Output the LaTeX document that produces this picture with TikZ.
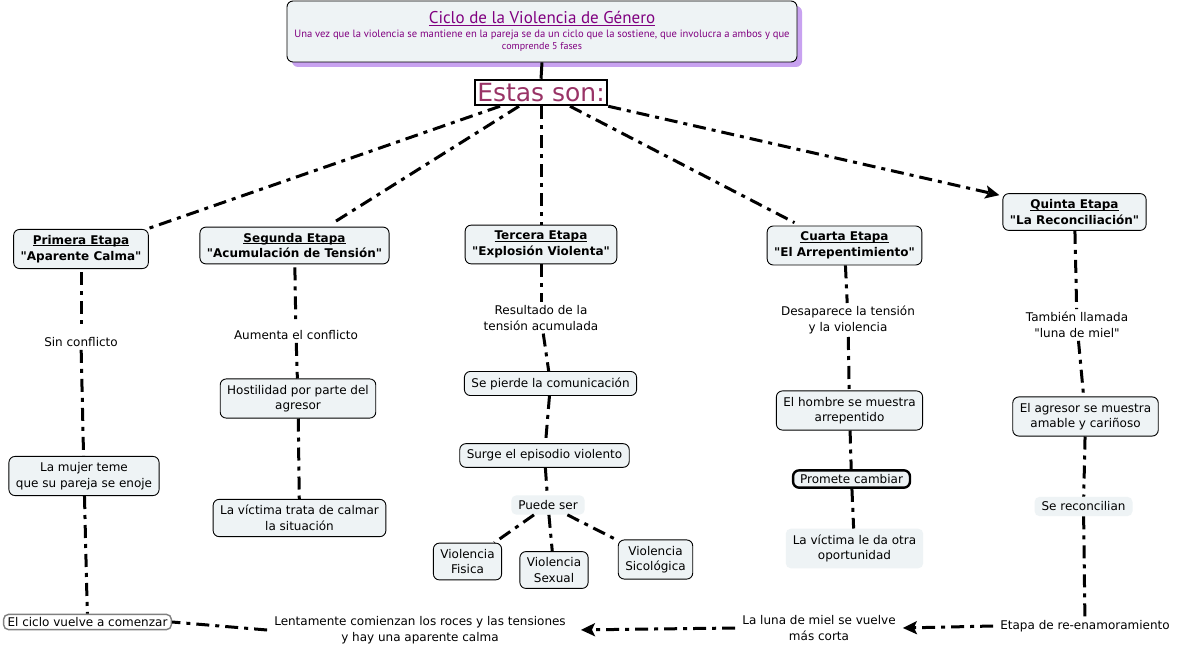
\documentclass[tikz,border=0pt]{standalone}
\usepackage{fontspec}
\setmainfont{DejaVu Sans}[Ligatures=TeXReset]
\newfontfamily\titlefont{PT Sans}
\usetikzlibrary{arrows.meta}
\definecolor{nodefill}{HTML}{EEF3F5}
\definecolor{ttl}{HTML}{800080}
\definecolor{estasc}{HTML}{993366}
\definecolor{shadowc}{HTML}{C8A2F0}
\newcommand\myul[1]{\setbox0\hbox{#1}\rlap{\rule[-1.6pt]{\wd0}{0.8pt}}\box0}
\newcommand\fsz{\fontsize{12}{15.5}\selectfont}
\begin{document}
\begin{tikzpicture}[x=1pt,y=-1pt,
 base/.style={align=center, font=\fsz, inner xsep=7pt, inner ysep=6pt},
 box/.style={base, draw=black, line width=0.9pt, rounded corners=6pt, fill=nodefill},
 fbox/.style={base, fill=nodefill, rounded corners=5pt},
 plain/.style={base, inner ysep=3pt},
 thickbox/.style={box, line width=2.4pt, inner ysep=4pt},
 grbox/.style={base, draw=gray, line width=1.4pt, rounded corners=5pt, fill=white, inner xsep=4pt, inner ysep=3pt},
 stage/.style={box, font=\fsz\bfseries},
 link/.style={line width=3pt, dash pattern=on 13pt off 6pt on 4pt off 6pt},
 tip/.style={-{Stealth[length=14pt,width=13pt,inset=3pt]}}
]
\fill[white] (0,0) rectangle (1180,655);
\path (0,0) rectangle (1180,655);

% title shadow and title
\fill[shadowc, rounded corners=6pt] (292,6) rectangle (802,67);
\node[draw=black, line width=0.9pt, rounded corners=6pt, fill=nodefill,
  minimum width=510pt, minimum height=61pt, align=center, inner sep=2pt,
  font=\titlefont, text=ttl]
  (title) at (542,31.5)
  {\fontsize{17}{19}\selectfont\myul{Ciclo de la Violencia de Género}\\[1.5pt]
   \fontsize{10.6}{14.5}\selectfont Una vez que la violencia se mantiene en la pareja se da un ciclo que la sostiene, que involucra a ambos y que\\comprende 5 fases};

\node[draw=black, line width=2.5pt, fill=white, minimum width=132pt, minimum height=25pt, inner sep=0pt,
  font=\fontsize{25}{27}\selectfont, text=estasc] (estas) at (541,92.5) {Estas son:};

% stages
\node[stage] (s1) at (81,249) {\myul{Primera Etapa}\\"Aparente Calma"};
\node[stage] (s2) at (294.5,245.5) {\myul{Segunda Etapa}\\"Acumulación de Tensión"};
\node[stage] (s3) at (541,244.5) {\myul{Tercera Etapa}\\"Explosión Violenta"};
\node[stage] (s4) at (844.5,245.5) {\myul{Cuarta Etapa}\\"El Arrepentimiento"};
\node[stage] (s5) at (1074.5,212) {\myul{Quinta Etapa}\\"La Reconciliación"};

% column 1
\node[plain] (c1a) at (81,342) {Sin conflicto};
\node[box] (c1b) at (84,476) {La mujer teme\\que su pareja se enoje};
\node[grbox] (c1c) at (87.5,622) {El ciclo vuelve a comenzar};

% column 2
\node[plain] (c2a) at (296,335) {Aumenta el conflicto};
\node[box] (c2b) at (298,398.5) {Hostilidad por parte del\\agresor};
\node[box] (c2c) at (299.5,518) {La víctima trata de calmar\\la situación};

% column 3
\node[plain] (c3a) at (541,318) {Resultado de la\\tensión acumulada};
\node[box] (c3b) at (550.5,383.5) {Se pierde la comunicación};
\node[box] (c3c) at (544.5,455.5) {Surge el episodio violento};
\node[fbox, inner ysep=5pt] (c3d) at (548,505) {Puede ser};
\node[box] (v1) at (467.5,561.5) {Violencia\\Fisica};
\node[box] (v2) at (554,570) {Violencia\\Sexual};
\node[box] (v3) at (655.5,559.5) {Violencia\\Sicológica};

% column 4
\node[plain] (c4a) at (848,320) {Desaparece la tensión\\y la violencia};
\node[box] (c4b) at (849.5,410.5) {El hombre se muestra\\arrepentido};
\node[thickbox] (c4c) at (851.5,479) {Promete cambiar};
\node[fbox] (c4d) at (854.5,548.5) {La víctima le da otra\\oportunidad};

% column 5
\node[plain] (c5a) at (1077,325) {También llamada\\"luna de miel"};
\node[box] (c5b) at (1085.5,416.5) {El agresor se muestra\\amable y cariñoso};
\node[fbox, inner ysep=5pt] (c5c) at (1083.5,506.5) {Se reconcilian};

% bottom row
\node[plain] (b1) at (1085,626) {Etapa de re-enamoramiento};
\node[plain] (b2) at (819,628) {La luna de miel se vuelve\\más corta};
\node[plain] (b3) at (420,630) {Lentamente comienzan los roces y las tensiones\\y hay una aparente calma};

% connectors
\draw[line width=3pt] (title.south) -- (estas.north);
\draw[link] ([xshift=-41pt]estas.south) -- ([xshift=-2pt]s1.north east);
\draw[link] ([xshift=-22pt]estas.south) -- ([xshift=39pt,yshift=4pt]s2.north);
\draw[link] (estas.south) -- (s3.north);
\draw[link] ([xshift=29pt]estas.south) -- ([xshift=-50pt,yshift=3pt]s4.north);
\draw[link,tip] (estas.south east) -- ([xshift=-3pt,yshift=-2pt]s5.north west);

\draw[link,shorten <=3pt,shorten >=6pt] (s1) -- (c1a);
\draw[link] (c1a) -- (c1b);
\draw[link] (c1b) -- (c1c);

\draw[link,shorten <=3pt,shorten >=8pt] (s2) -- (c2a);
\draw[link] (c2a) -- (c2b);
\draw[link] (c2b) -- (c2c);

\draw[link] (s3) -- (c3a);
\draw[link] (c3a) -- (c3b);
\draw[link] (c3b) -- (c3c);
\draw[link] (c3c) -- (c3d);
\draw[link] (c3d) -- (v1);
\draw[link] (c3d) -- (v2);
\draw[link] (c3d) -- (v3);

\draw[link] (s4) -- (c4a);
\draw[link] (c4a) -- (c4b);
\draw[link] (c4b) -- (c4c);
\draw[link] (c4c) -- (c4d);

\draw[link] (s5) -- (c5a);
\draw[link] (c5a) -- (c5b);
\draw[link] (c5b) -- (c5c);
\draw[link] (c5c) -- (b1);

\draw[link,tip] (b1.west) -- (b2.east);
\draw[link,tip,shorten >=8pt] (b2.west) -- (b3.east);
\draw[link] (b3.west) -- (c1c.east);
\end{tikzpicture}
\end{document}
